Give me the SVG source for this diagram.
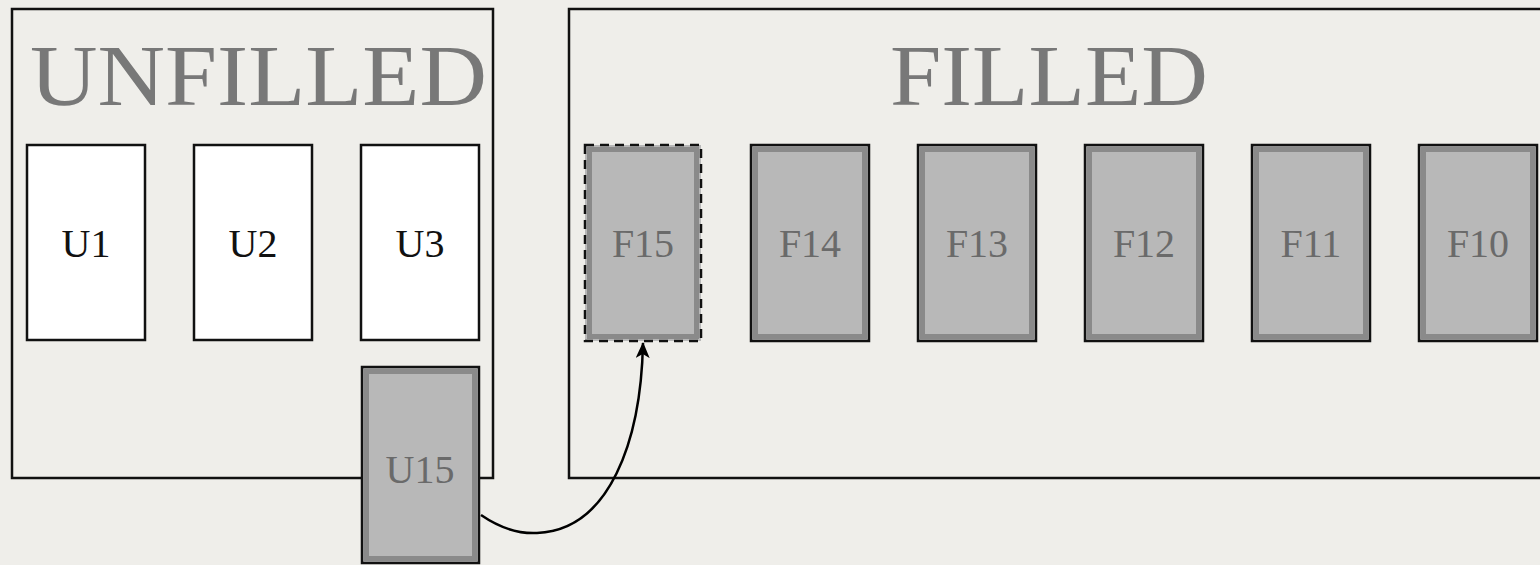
<svg xmlns="http://www.w3.org/2000/svg" width="1540" height="565" viewBox="0 0 1540 565">
<defs>
<marker id="arr" viewBox="0 0 16 14" refX="15" refY="7" markerWidth="16" markerHeight="14" markerUnits="userSpaceOnUse" orient="auto">
<path d="M0,0 L16,7 L0,14 L4,7 z" fill="#000"/>
</marker>
</defs>
<style>
.panel{fill:none;stroke:#111;stroke-width:2.5}
.title{font-family:"Liberation Serif",serif;font-size:86px;fill:#787878}
.white{fill:#fff;stroke:#111;stroke-width:2.5}
.gray{fill:#b8b8b8;stroke:#111;stroke-width:2.5}
.inner{fill:none;stroke:#8a8a8a;stroke-width:5}
.dash{fill:none;stroke:#111;stroke-width:2.5;stroke-dasharray:9,6}
.lbl{font-family:"Liberation Serif",serif;font-size:40px;text-anchor:middle}
.lw{fill:#111}
.lg{fill:#6a6a6a}
.conn{fill:none;stroke:#000;stroke-width:2.5}
</style>
<rect width="1540" height="565" fill="#efeeea"/>
<g id="unfilled">
<rect class="panel" x="12" y="9" width="481" height="469"/>
<text class="title" x="30" y="105" textLength="457" lengthAdjust="spacingAndGlyphs">UNFILLED</text>
</g>
<g id="filled">
<rect class="panel" x="569" y="9" width="990" height="469"/>
<text class="title" x="890" y="105" textLength="318" lengthAdjust="spacingAndGlyphs">FILLED</text>
</g>
<g id="U1"><rect class="white" x="27" y="145" width="118" height="195"/><text class="lbl lw" x="86" y="257">U1</text></g>
<g id="U2"><rect class="white" x="194" y="145" width="118" height="195"/><text class="lbl lw" x="253" y="257">U2</text></g>
<g id="U3"><rect class="white" x="361" y="145" width="118" height="195"/><text class="lbl lw" x="420" y="257">U3</text></g>
<g id="U15"><rect class="gray" x="362" y="367" width="117" height="196"/><rect class="inner" x="366.5" y="371.5" width="108" height="187"/><text class="lbl lg" x="420" y="483">U15</text></g>
<g id="F15"><rect fill="#b8b8b8" x="585" y="145" width="116" height="196"/><rect class="inner" x="589.5" y="149.5" width="107" height="187"/><rect class="dash" x="585" y="145" width="116" height="196"/><text class="lbl lg" x="643" y="257">F15</text></g>
<g id="F14"><rect class="gray" x="751" y="145" width="118" height="196"/><rect class="inner" x="755.5" y="149.5" width="109" height="187"/><text class="lbl lg" x="810" y="257">F14</text></g>
<g id="F13"><rect class="gray" x="918" y="145" width="118" height="196"/><rect class="inner" x="922.5" y="149.5" width="109" height="187"/><text class="lbl lg" x="977" y="257">F13</text></g>
<g id="F12"><rect class="gray" x="1085" y="145" width="118" height="196"/><rect class="inner" x="1089.5" y="149.5" width="109" height="187"/><text class="lbl lg" x="1144" y="257">F12</text></g>
<g id="F11"><rect class="gray" x="1252" y="145" width="118" height="196"/><rect class="inner" x="1256.5" y="149.5" width="109" height="187"/><text class="lbl lg" x="1311" y="257">F11</text></g>
<g id="F10"><rect class="gray" x="1419" y="145" width="118" height="196"/><rect class="inner" x="1423.5" y="149.5" width="109" height="187"/><text class="lbl lg" x="1478" y="257">F10</text></g>
<g id="connectors">
<path class="conn" d="M481,515 C500,528 518,534 537,533 C610,530 641,440 643,343" marker-end="url(#arr)"/>
</g>
</svg>
